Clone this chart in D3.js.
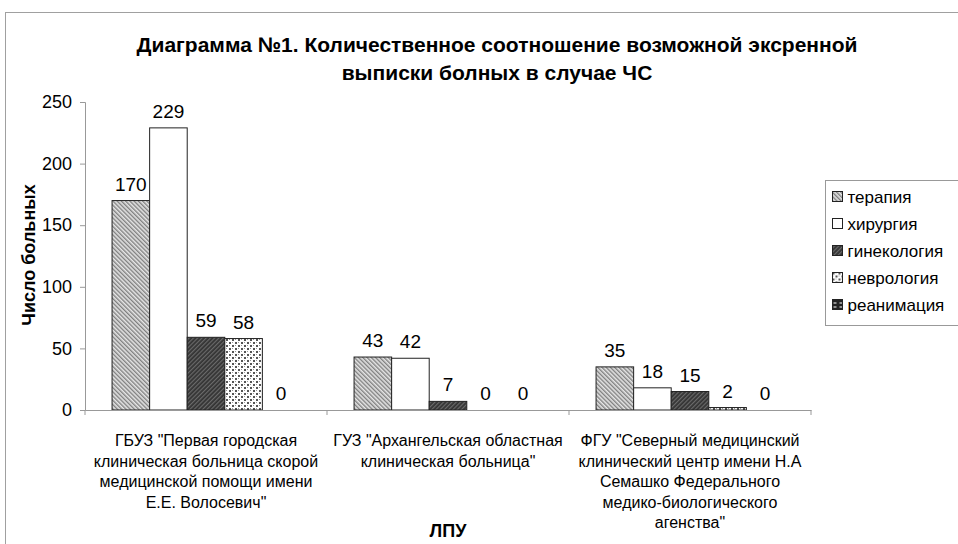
<!DOCTYPE html>
<html>
<head>
<meta charset="utf-8">
<script src="https://cdn.jsdelivr.net/npm/d3@7"></script>
<style>
  body { margin: 0; background: #fff; }
  svg { font-family: "Liberation Sans", Arial, sans-serif; }
</style>
</head>
<body>
<svg id="chart" width="958" height="544"></svg>
<script>
// data
const hospitals = ["ГБУЗ", "ГУЗ", "ФГУ"];
const hospitalLabels = [
    ["ГБУЗ \"Первая городская", "клиническая больница скорой", "медицинской помощи имени", "Е.Е. Волосевич\""],
    ["ГУЗ \"Архангельская областная", "клиническая больница\""],
    ["ФГУ \"Северный медицинский", "клинический центр имени Н.А", "Семашко Федерального", "медико-биологического", "агенства\""]
];
const departments = ["терапия", "хирургия", "гинекология", "неврология", "реанимация"];
const terapia = [170, 43, 35];
const khirurgia = [229, 42, 18];
const ginekologia = [59, 7, 15];
const nevrologia = [58, 0, 2];
const reanimacia = [0, 0, 0];
const seriesValues = [terapia, khirurgia, ginekologia, nevrologia, reanimacia];
const yTicks = [0, 50, 100, 150, 200, 250];

const margin = { top: 102, left: 85, right: 147, bottom: 134 };
const width = 958 - margin.left - margin.right;
const height = 544 - margin.top - margin.bottom;

const svg = d3.select("#chart");

// patterns
const defs = svg.append("defs");
function stripes(id, bg, fg, angle, size, sw) {
    const p = defs.append("pattern")
        .attr("id", id)
        .attr("patternUnits", "userSpaceOnUse")
        .attr("width", size).attr("height", size)
        .attr("patternTransform", `rotate(${angle})`);
    p.append("rect").attr("width", size).attr("height", size).attr("fill", bg);
    p.append("rect").attr("width", sw).attr("height", size).attr("fill", fg);
}
stripes("p-ter", "#e6e6e6", "#808080", -45, 3, 1.4);
stripes("p-gin", "#333", "#6a6a6a", 45, 3, 1.2);
const dots = defs.append("pattern")
    .attr("id", "p-nev")
    .attr("patternUnits", "userSpaceOnUse")
    .attr("width", 6).attr("height", 6);
dots.append("rect").attr("width", 6).attr("height", 6).attr("fill", "#fff");
dots.append("rect").attr("x", 0).attr("y", 0).attr("width", 2).attr("height", 2).attr("fill", "#555");
dots.append("rect").attr("x", 3).attr("y", 3).attr("width", 2).attr("height", 2).attr("fill", "#555");
dots.append("rect").attr("x", 3).attr("y", 0).attr("width", 1).attr("height", 1).attr("fill", "#999");
dots.append("rect").attr("x", 0).attr("y", 3).attr("width", 1).attr("height", 1).attr("fill", "#999");
const rea = defs.append("pattern")
    .attr("id", "p-rea")
    .attr("patternUnits", "userSpaceOnUse")
    .attr("width", 6).attr("height", 4);
rea.append("rect").attr("width", 6).attr("height", 4).attr("fill", "#222");
rea.append("rect").attr("x", 1).attr("y", 1).attr("width", 3).attr("height", 1).attr("fill", "#fff");

const fills = ["url(#p-ter)", "#fff", "url(#p-gin)", "url(#p-nev)", "url(#p-rea)"];

// outer frame
svg.append("rect")
    .attr("x", 5.5).attr("y", 12.5)
    .attr("width", 1000).attr("height", 600)
    .attr("fill", "none").attr("stroke", "#a0a0a0");

const g = svg.append("g").attr("transform", `translate(${margin.left},${margin.top})`);

const x0 = d3.scaleBand().domain(hospitals).range([0, width]).paddingInner(0).paddingOuter(0);
const x1 = d3.scaleBand().domain(departments).range([0, x0.bandwidth()]).paddingInner(0).paddingOuter(0.72);
const y = d3.scaleLinear().domain([0, 250]).range([height, 0]);

// bars
const groups = g.selectAll(".grp")
    .data(hospitals)
    .join("g")
    .attr("class", "grp")
    .attr("transform", d => `translate(${x0(d)},0)`);

groups.each(function(h, i) {
    const rows = departments.map((dep, k) => ({ dep, k, v: seriesValues[k][i] }));
    const sel = d3.select(this);
    sel.selectAll("rect")
        .data(rows.filter(r => r.v > 0))
        .join("rect")
        .attr("x", r => x1(r.dep))
        .attr("y", r => y(r.v))
        .attr("width", x1.bandwidth())
        .attr("height", r => y(0) - y(r.v))
        .attr("fill", r => fills[r.k])
        .attr("stroke", "#222")
        .attr("stroke-width", 1);
    sel.selectAll("text")
        .data(rows)
        .join("text")
        .attr("x", r => x1(r.dep) + x1.bandwidth() / 2)
        .attr("y", r => y(r.v) - 10)
        .attr("text-anchor", "middle")
        .attr("font-size", "19px")
        .attr("fill", "#000")
        .text(r => r.v);
});

// y axis
const yAxis = g.append("g")
    .call(d3.axisLeft(y).tickValues(yTicks).tickSize(5).tickPadding(8));
yAxis.selectAll("text").attr("font-size", "18px").attr("fill", "#000").attr("font-family", "Liberation Sans, Arial, sans-serif");
yAxis.selectAll("line, path").attr("stroke", "#999");

// x axis
const xAxis = g.append("g")
    .attr("transform", `translate(0,${height})`)
    .call(d3.axisBottom(x0).tickValues([]).tickSizeOuter(0));
xAxis.select("path").attr("stroke", "#999");
xAxis.selectAll(".sep")
    .data(d3.range(hospitals.length + 1))
    .join("line")
    .attr("class", "sep")
    .attr("x1", i => i * x0.bandwidth())
    .attr("x2", i => i * x0.bandwidth())
    .attr("y1", 0).attr("y2", 5)
    .attr("stroke", "#999");

// category labels
hospitals.forEach((h, i) => {
    const t = g.append("text")
        .attr("x", x0(h) + x0.bandwidth() / 2)
        .attr("y", height + 36)
        .attr("text-anchor", "middle")
        .attr("font-size", "16px")
        .attr("fill", "#000");
    hospitalLabels[i].forEach((line, j) => {
        t.append("tspan")
            .attr("x", x0(h) + x0.bandwidth() / 2)
            .attr("dy", j === 0 ? 0 : 20.5)
            .text(line);
    });
});

// title
const title = svg.append("text")
    .attr("x", 497).attr("y", 52)
    .attr("text-anchor", "middle")
    .attr("font-size", "21px")
    .attr("font-weight", "bold");
title.append("tspan").attr("x", 497).text("Диаграмма №1. Количественное соотношение возможной эксренной");
title.append("tspan").attr("x", 497).attr("dy", 28).text("выписки болных в случае ЧС");

// axis titles
svg.append("text")
    .attr("transform", "translate(35,255) rotate(-90)")
    .attr("text-anchor", "middle")
    .attr("font-size", "18px")
    .attr("font-weight", "bold")
    .text("Число больных");
svg.append("text")
    .attr("x", 448).attr("y", 537)
    .attr("text-anchor", "middle")
    .attr("font-size", "18px")
    .attr("font-weight", "bold")
    .text("ЛПУ");

// legend
const legend = svg.append("g").attr("transform", "translate(825.5,180.5)");
legend.append("rect")
    .attr("width", 200).attr("height", 145)
    .attr("fill", "#fff").attr("stroke", "#999");
departments.forEach((dep, k) => {
    const row = legend.append("g").attr("transform", `translate(7,${17 + k * 27})`);
    row.append("rect")
        .attr("x", 0).attr("y", -6)
        .attr("width", 10).attr("height", 10)
        .attr("fill", fills[k]).attr("stroke", "#222");
    row.append("text")
        .attr("x", 15).attr("y", 5)
        .attr("font-size", "17px")
        .text(dep);
});
</script>
</body>
</html>
